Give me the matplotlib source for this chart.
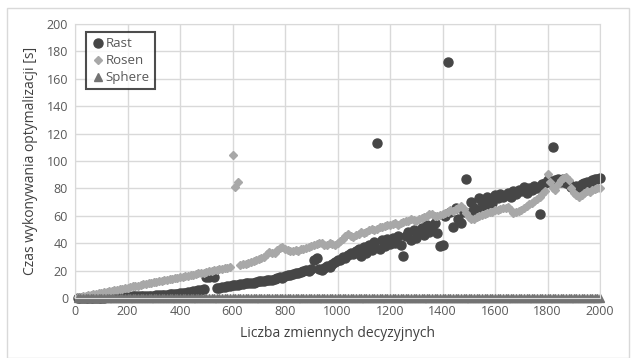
import numpy as np
import matplotlib.pyplot as plt
from matplotlib.patches import Rectangle

# number of decision variables (10 .. 2000, step 10)
n_vars = np.arange(10, 2001, 10)

# optimisation time [s]
rast = [
    0, 0, 0, 0, 0, 0, 0, 0, 0, 0.2,
    0.3, 0.4, 0.4, 0.5, 0.6, 0.6, 0.7, 0.8, 0.9, 1.0,
    1.0, 1.1, 1.2, 1.3, 1.3, 1.4, 1.5, 1.6, 1.7, 1.8,
    1.9, 2.0, 2.2, 2.3, 2.5, 2.6, 2.8, 3.0, 3.2, 3.5,
    3.8, 4.0, 4.3, 4.6, 5.0, 5.3, 5.8, 6.0, 6.3, 15.0,
    15.5, 15.8, 15.2, 7.0, 7.5, 8.0, 8.3, 8.6, 9.0, 9.3,
    9.5, 9.8, 10.2, 10.0, 10.6, 11.0, 11.3, 11.0, 11.8, 12.2,
    12.5, 12.2, 13.0, 13.5, 13.2, 14.0, 14.6, 15.0, 14.5, 15.8,
    16.5, 17.0, 17.5, 18.0, 18.5, 19.0, 19.5, 20.5, 20.0, 21.0,
    28.0, 29.0, 21.0, 20.5, 22.0, 23.0, 22.5, 24.5, 26.0, 27.5,
    28.0, 30.0, 29.0, 31.5, 33.0, 32.0, 34.5, 36.0, 31.0, 37.0,
    33.0, 38.5, 35.0, 41.0, 113.0, 36.0, 42.0, 38.0, 43.0, 39.5,
    44.0, 40.0, 45.5, 39.0, 31.0, 45.0, 48.0, 42.0, 49.5, 44.0,
    49.0, 51.0, 46.0, 53.0, 48.0, 51.0, 54.5, 47.5, 38.0, 39.0,
    60.0, 172.0, 63.0, 52.0, 66.0, 58.0, 55.0, 63.0, 87.0, 62.0,
    70.0, 66.0, 64.0, 73.0, 70.0, 67.0, 74.0, 72.0, 69.0, 75.0,
    73.0, 76.0, 74.0, 75.0, 77.0, 74.0, 78.0, 76.0, 79.0, 78.0,
    81.0, 77.0, 80.0, 79.0, 82.0, 80.0, 61.0, 83.0, 84.0, 86.0,
    85.0, 110.0, 86.0, 87.0, 85.0, 87.0, 84.0, 83.0, 81.0, 80.0,
    82.0, 81.0, 83.0, 84.0, 85.0, 84.0, 86.0, 86.5, 87.0, 87.5,
]

rosen = [
    0.4, 0.8, 1.1, 1.5, 1.9, 2.3, 2.7, 3.0, 3.4, 3.8,
    4.2, 4.6, 4.9, 5.3, 5.7, 6.1, 6.5, 6.8, 7.2, 7.6,
    8.0, 8.4, 8.7, 9.1, 9.5, 9.9, 10.3, 10.6, 11.0, 11.4,
    11.8, 12.2, 12.5, 12.9, 13.3, 13.7, 14.1, 14.4, 14.8, 15.2,
    15.6, 16.0, 16.3, 16.7, 17.1, 17.5, 17.9, 18.2, 18.6, 19.0,
    19.4, 19.8, 20.1, 20.5, 20.9, 21.3, 21.7, 22.0, 22.4, 104.5,
    81.0, 84.5, 24.0, 24.5, 25.0, 25.5, 26.0, 27.0, 27.5, 28.5,
    29.5, 30.0, 32.0, 33.5, 32.5, 33.0, 35.0, 36.5, 37.0, 36.0,
    35.0, 34.5, 34.0, 35.0, 34.5, 35.5, 36.0, 36.5, 37.0, 38.0,
    38.5, 39.5, 40.5, 40.0, 39.0, 38.5, 40.0, 39.5, 38.5, 40.0,
    41.5, 43.0, 45.0, 46.5, 45.5, 44.5, 46.0, 47.0, 48.0, 47.5,
    48.5, 49.5, 50.5, 49.5, 50.5, 51.5, 52.0, 52.5, 53.0, 53.5,
    54.0, 54.5, 53.5, 55.0, 55.5, 56.0, 56.5, 57.5, 57.0, 56.5,
    57.5, 58.5, 59.0, 60.0, 61.0, 61.5, 59.5, 60.0, 60.5, 61.5,
    62.0, 63.0, 64.0, 63.5, 65.0, 66.0, 67.5, 65.0, 62.0, 59.0,
    57.5, 58.0, 59.0, 59.5, 60.5, 61.0, 62.0, 62.5, 63.0, 64.0,
    64.5, 65.0, 66.0, 65.5, 66.5, 64.0, 62.0, 62.5, 63.5, 64.5,
    66.0, 67.0, 68.5, 69.5, 71.0, 72.0, 74.0, 76.0, 78.0, 90.5,
    85.0, 80.0, 79.0, 83.0, 86.0, 87.5, 88.0, 86.0, 80.0, 77.0,
    75.0, 74.0, 75.5, 77.0, 78.0, 77.5, 78.5, 79.5, 80.0, 80.5,
]

# Sphere stays at ~0 s over the whole range
sphere = [0.0] * len(n_vars)

x_ticks = list(range(0, 2001, 200))
y_ticks = list(range(0, 201, 20))

txt = "#595959"
plt.rcParams["font.family"] = ["Open Sans", "DejaVu Sans"]

fig = plt.figure(figsize=(6.31, 3.58), dpi=100)
fig.patches.append(Rectangle((7 / 631, 0), 622 / 631, 350 / 358, transform=fig.transFigure,
                             fill=False, edgecolor="#d9d9d9", linewidth=1))
ax = fig.add_axes([75 / 631, 60 / 358, 525 / 631, 274 / 358])

ax.plot(n_vars, rast, "o", color="#464646", markersize=6.5, label="Rast", clip_on=False)
ax.plot(n_vars, rosen, "D", color="#a8a8a8", markersize=4.5, label="Rosen", clip_on=False)
ax.plot(n_vars, sphere, "^", color="#737373", markersize=5.5, label="Sphere", clip_on=False)

ax.set_xlim(0, 2000)
ax.set_ylim(0, 200)
ax.set_xticks(x_ticks)
ax.set_yticks(y_ticks)
ax.tick_params(length=0, labelsize=9, colors=txt, pad=5)
ax.grid(True, color="#d9d9d9", linewidth=1)
ax.set_axisbelow(True)
for s in ax.spines.values():
    s.set_color("#d9d9d9")

ax.set_xlabel("Liczba zmiennych decyzyjnych", fontsize=10, color="#404040", labelpad=6)
ax.set_ylabel("Czas wykonywania optymalizacji [s]", fontsize=10, color="#404040", labelpad=6)

leg = ax.legend(loc="upper left", fontsize=9.5, frameon=True, fancybox=False,
                handletextpad=0.1, handlelength=1.0, borderpad=0.4, labelspacing=0.3,
                bbox_to_anchor=(0.008, 0.995))
leg.get_frame().set_edgecolor("#202020")
leg.get_frame().set_linewidth(1.5)
for t in leg.get_texts():
    t.set_color(txt)

fig.savefig("out.png", dpi=100)
